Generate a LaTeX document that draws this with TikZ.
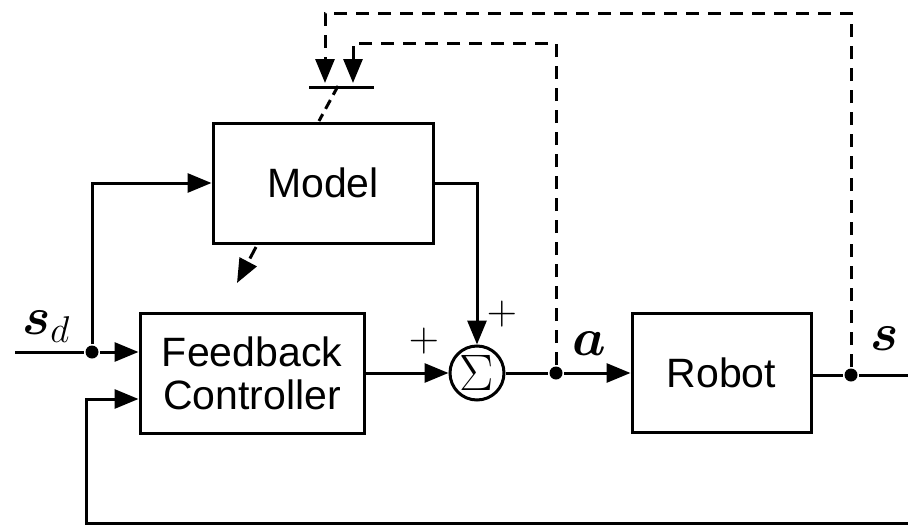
\RequirePackage{fix-cm}
\documentclass[tikz,border=0pt]{standalone}
\usepackage[no-math]{fontspec}
\setsansfont{Liberation Sans}
\usepackage{amsmath,bm}
\usetikzlibrary{arrows.meta,positioning,calc}

\begin{document}
\begin{tikzpicture}[
    x=1pt, y=-1pt,
    line width=3pt,
    block/.style={rectangle, draw, font=\sffamily\fontsize{41}{43}\selectfont, align=center, inner sep=0pt},
    sumnode/.style={circle, draw, minimum size=54pt, inner sep=0pt, font=\fontsize{38}{40}\selectfont},
    joint/.style={circle, fill, inner sep=0pt, minimum size=13pt},
    lbl/.style={font=\fontsize{38}{40}\selectfont, inner sep=0pt},
    arr/.style={-{Triangle[length=24pt,width=19pt]}},
    dsh/.style={dash pattern=on 13pt off 9pt}
  ]
  \useasboundingbox (0,0) rectangle (908,525);

  \node[block, minimum width=220pt, minimum height=120pt] (model) at (323,183) {Model};
  \node[block, minimum width=224pt, minimum height=120pt] (fc) at (252,373) {Feedback\\Controller};
  \node[sumnode] (sum) at (477,373) {\scalebox{1.35}{$\Sigma$}};
  \node[block, minimum width=179pt, minimum height=119pt] (robot) at (721.5,373) {Robot};

  \node[joint] (sdjoint) at (92,352) {};
  \node[joint] (ajoint) at (556,373) {};
  \node[joint] (sjoint) at (851,375) {};
  \coordinate (sdin) at (15,352);
  \coordinate (sout) at (908,375);
  \coordinate (fbcorner) at (86,523);
  \coordinate (fbend) at (908,523);

  % adaptation inputs above the model
  \coordinate (adapt1) at (325,83);
  \coordinate (adapt2) at (353,83);
  \coordinate (barl) at (309,87);
  \coordinate (barr) at (374,87);
  \coordinate (slashtop) at (338,86);
  \coordinate (slashbot) at (319,121);
  \coordinate (mdout) at (256,247);
  \coordinate (mdtip) at (237,283);

  \node[lbl, scale=1.4] (sdlbl) at (46,327) {$\bm{s}_d$};
  \node[lbl, scale=1.4] (albl) at (589,344) {$\bm{a}$};
  \node[lbl, scale=1.4] (slbl) at (885,339) {$\bm{s}$};
  \node[lbl, scale=1.1] (plus1) at (424,341) {$+$};
  \node[lbl, scale=1.1] (plus2) at (502,314) {$+$};

  \draw (sdin) -- (sdjoint);
  \draw[arr] (sdjoint) -- (sdjoint -| fc.west);
  \draw[arr] (sdjoint) |- (model.west);
  \draw[arr] (model.east) -| (sum.north);
  \draw[arr] (fc.east) -- (sum.west);
  \draw (sum.east) -- (ajoint);
  \draw[arr] (ajoint) -- (robot.west);
  \draw (robot.east |- sjoint) -- (sjoint) -- (sout);
  \draw[arr] (fbend) -- (fbcorner) |- ($(fc.west)+(0,26)$);

  \draw[dsh, arr] (sjoint) |- ($(adapt1)+(0,-70)$) -- (adapt1);
  \draw[dsh, arr] (ajoint) |- ($(adapt2)+(0,-40)$) -- (adapt2);
  \draw (barl) -- (barr);
  \draw[dash pattern=on 10pt off 6pt] (slashtop) -- (slashbot);
  \draw[dsh, arr] (mdout) -- (mdtip);
\end{tikzpicture}
\end{document}
